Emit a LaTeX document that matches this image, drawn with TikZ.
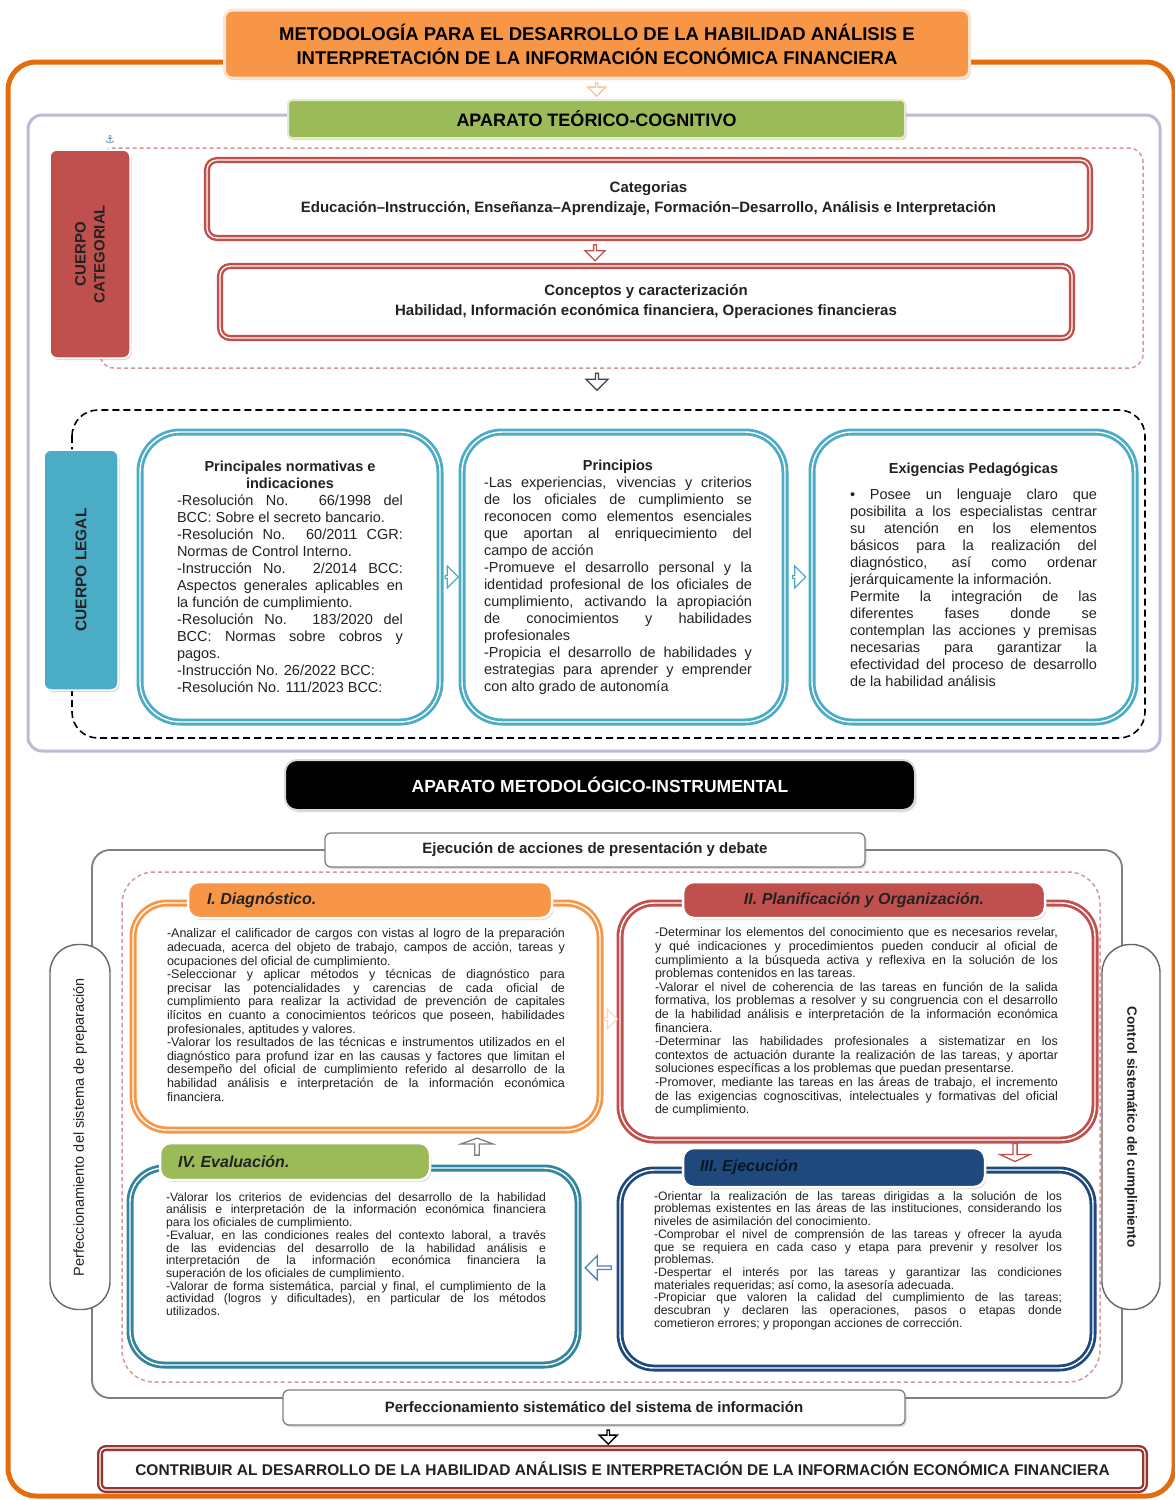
\documentclass[tikz,border=0pt]{standalone}
\usepackage{fontspec}
\setmainfont{Liberation Sans}
\newfontfamily\dejavufont{DejaVu Sans}
\usetikzlibrary{shapes.arrows,calc,shadows}
\definecolor{oframe}{HTML}{E46C0A}
\definecolor{otitle}{HTML}{F79646}
\definecolor{lav}{HTML}{BFB8D6}
\definecolor{grn}{HTML}{9BBB59}
\definecolor{rd}{HTML}{C0504D}
\definecolor{rdl}{HTML}{D99694}
\definecolor{tl}{HTML}{4BACC6}
\definecolor{tld}{HTML}{31859C}
\definecolor{nv}{HTML}{1F497D}
\definecolor{dred}{HTML}{953735}
\definecolor{gr}{HTML}{7F7F7F}
\definecolor{txt}{HTML}{222222}
\definecolor{lblue}{HTML}{4F81BD}
\newcommand\myfs[2]{\fontsize{#1}{#2}\selectfont}
\newcommand\bodysetup{\parindent=0pt\tolerance=10000\hbadness=10000\relax}
\begin{document}
\begin{tikzpicture}[x=1pt,y=-1pt,
  every node/.style={inner sep=0pt, outer sep=0pt},
  shad/.style={drop shadow={opacity=0.28,shadow xshift=1.5pt,shadow yshift=-2pt}},
  headbox/.style={rounded corners=8, align=center, text=black},
  catbox/.style={fill=white, draw=rd, line width=2.4, double=white, double distance=1.3, rounded corners=10, align=center, shad, font={\bfseries\myfs{15}{20}}, text=txt},
  labelbox/.style={draw=white, line width=1.5, rounded corners=7, shad},
  tealbox/.style={fill=white, draw=tl, line width=2.8, double=white, double distance=1.4, rounded corners=40},
  lbox/.style={fill=white, line width=2.8, double=white, double distance=1.4, rounded corners=34},
  whitebox/.style={fill=white, draw=gr, line width=1.3, rounded corners=6, shad, font={\bfseries\myfs{15}{18}}, text=txt},
  sidebox/.style={fill=white, draw=gr!80!black, line width=1.4, rounded corners=28},
  tab/.style={draw=white, line width=2.5, rounded corners=11, shad},
  tabtext/.style={font={\bfseries\itshape\myfs{16}{18}}, text=txt},
  bodyL/.style={align=justify, text=txt, font={\myfs{14.5}{17}\bodysetup}},
  bodyS/.style={align=justify, text=txt, font={\myfs{12.5}{13.6}\bodysetup}},
  bodyT/.style={align=justify, text=txt, font={\myfs{12.2}{12.7}\bodysetup}},
  barrow/.style={single arrow, draw=#1, fill=white, line width=1.3, single arrow head extend=4pt, inner sep=0pt},
  rdash/.style={draw=rdl, line width=1.5, dash pattern=on 4pt off 3pt, rounded corners=14},
]
\useasboundingbox (0,0) rectangle (1175,1500);
\fill[white] (0,0) rectangle (1175,1500);

% ---------- frames ----------
\draw[oframe, line width=5, rounded corners=28] (8,62) rectangle (1174,1496);
\draw[lav, line width=3, rounded corners=14] (28,115) rectangle (1160,751);

% ---------- title ----------
\node[headbox, fill=otitle, draw=otitle!25, line width=3, shad, minimum width=745, minimum height=68, font={\bfseries\myfs{18.5}{24}}] (title) at (597,44)
  {METODOLOGÍA PARA EL DESARROLLO DE LA HABILIDAD ANÁLISIS E\\INTERPRETACIÓN DE LA INFORMACIÓN ECONÓMICA FINANCIERA};
\node[headbox, fill=grn, draw=grn!30, line width=2, rounded corners=4, shad, minimum width=617, minimum height=38, font={\bfseries\myfs{18}{20}}] (green) at (596.5,119)
  {APARATO TEÓRICO-COGNITIVO};
\node[barrow=otitle!55, rotate=-90, minimum height=13, minimum width=18] (a1) at ($(title.south)!0.5!(green.north)$) {};

\node[text=lblue, font={\dejavufont\myfs{11}{11}}] (anc) at (110,140) {⚓};

% ---------- cuerpo categorial ----------
\draw[rdash] (100,148) rectangle (1143,368);
\node[labelbox, fill=rd, minimum width=80, minimum height=208] (cc) at (90,254) {};
\node[rotate=90, align=center, font={\bfseries\myfs{15}{19}}, text=txt] (cct) at (cc.center) {CUERPO\\CATEGORIAL};

\node[catbox, minimum width=883, minimum height=78] (cat) at (648.5,199)
  {Categorias\\Educación–Instrucción, Enseñanza–Aprendizaje, Formación–Desarrollo, Análisis e Interpretación};
\node[catbox, minimum width=852, minimum height=72] (con) at (646,302)
  {Conceptos y caracterización\\Habilidad, Información económica financiera, Operaciones financieras};
\node[barrow=rd, rotate=-90, minimum height=16, minimum width=20] (a2) at (595,252) {};
\node[barrow=black!75, rotate=-90, minimum height=17, minimum width=22] (a3) at (597,381) {};

% ---------- cuerpo legal ----------
\draw[black, line width=1.6, dash pattern=on 7pt off 4pt, rounded corners=26] (72,410) rectangle (1145,738);
\node[labelbox, fill=tl, minimum width=74, minimum height=240] (cl) at (81,570) {};
\node[rotate=90, font={\bfseries\myfs{15.5}{18}}, text=txt] (clt) at (cl.center) {CUERPO LEGAL};

\node[tealbox, minimum width=300, minimum height=290] (L1) at (290,577) {};
\node[tealbox, minimum width=323, minimum height=290] (L2) at (623.5,577) {};
\node[tealbox, minimum width=323, minimum height=290] (L3) at (973.5,577) {};

\node[bodyL, text width=226] (L1t) at (290,577) {{\centering\bfseries Principales normativas e\\indicaciones\par}%
-Resolución No. 66/1998 del\linebreak BCC: Sobre el secreto bancario.\par
-Resolución No. 60/2011 CGR:\linebreak Normas de Control Interno.\par
-Instrucción No. 2/2014 BCC:\linebreak Aspectos generales aplicables en\linebreak la función de cumplimiento.\par
-Resolución No. 183/2020 del\linebreak BCC: Normas sobre cobros y\linebreak pagos.\par
-Instrucción No. 26/2022 BCC:\par
-Resolución No. 111/2023 BCC:};

\node[bodyL, text width=268] (L2t) at (618,577.5) {{\centering\bfseries Principios\par}%
-Las experiencias, vivencias y criterios\linebreak de los oficiales de cumplimiento se\linebreak reconocen como elementos esenciales\linebreak que aportan al enriquecimiento del\linebreak campo de acción\par
-Promueve el desarrollo personal y la\linebreak identidad profesional de los oficiales de\linebreak cumplimiento, activando la apropiación\linebreak de conocimientos y habilidades\linebreak profesionales\par
-Propicia el desarrollo de habilidades y\linebreak estrategias para aprender y emprender\linebreak con alto grado de autonomía};

\node[bodyL, text width=247] (L3t) at (973.5,574.5) {{\centering\bfseries Exigencias Pedagógicas\par}\vspace{9pt}%
• Posee un lenguaje claro que\linebreak posibilita a los especialistas centrar\linebreak su atención en los elementos\linebreak básicos para la realización del\linebreak diagnóstico, así como ordenar\linebreak jerárquicamente la información.\par
Permite la integración de las\linebreak diferentes fases donde se\linebreak contemplan las acciones y premisas\linebreak necesarias para garantizar la\linebreak efectividad del proceso de desarrollo\linebreak de la habilidad análisis};

\node[barrow=tl, minimum height=13, minimum width=22] (a4) at ($(L1.east)!0.5!(L2.west)$) {};
\node[barrow=tl, minimum height=13, minimum width=22] (a5) at ($(L2.east)!0.5!(L3.west)$) {};

% ---------- aparato metodologico ----------
\node[headbox, fill=black, draw=gray!30, line width=2, rounded corners=12, shad, minimum width=630, minimum height=50, font={\bfseries\myfs{17.5}{20}}, text=white] (black) at (600,785)
  {APARATO METODOLÓGICO-INSTRUMENTAL};

\draw[gr, line width=1.8, rounded corners=18] (92,850) rectangle (1122,1398);
\draw[rdash, rounded corners=32] (122,872) rectangle (1100,1382);
\node[whitebox, minimum width=540, minimum height=34] (eje) at (595,850) {Ejecución de acciones de presentación y debate};

\node[sidebox, minimum width=60, minimum height=365] (sl) at (80,1127) {};
\node[rotate=90, font={\myfs{14.5}{16}}, text=txt] (slt) at (sl.center) {Perfeccionamiento del sistema de preparación};
\node[sidebox, minimum width=58, minimum height=365] (sr) at (1131,1127) {};
\node[rotate=-90, font={\bfseries\myfs{13.5}{16}}, text=txt] (srt) at (sr.center) {Control sistemático del cumplimiento};

% main boxes
\node[lbox, draw=otitle, minimum width=467, minimum height=227] (diag) at (366.5,1016.5) {};
\node[lbox, draw=rd, minimum width=475, minimum height=237] (plan) at (857.5,1021.5) {};
\node[lbox, draw=tld, minimum width=448, minimum height=197] (eval) at (354,1266.5) {};
\node[lbox, draw=nv, minimum width=473, minimum height=198] (ejec) at (856.5,1269) {};

% tabs
\node[tab, fill=otitle, minimum width=364, minimum height=36] (t1) at (370,900) {};
\node[tabtext, anchor=west] (t1t) at ($(t1.west)+(19,0)$) {I. Diagnóstico.};
\node[tab, fill=rd, minimum width=362, minimum height=36] (t2) at (864,900) {};
\node[tabtext] (t2t) at (t2.center) {II. Planificación y Organización.};
\node[tab, fill=grn, minimum width=270, minimum height=37] (t4) at (295,1161.5) {};
\node[tabtext, anchor=west] (t4t) at ($(t4.west)+(18,0)$) {IV. Evaluación.};
\node[tab, fill=nv, minimum width=302, minimum height=39] (t3) at (834,1167.5) {};
\node[tabtext, anchor=west, text=nv!30!black] (t3t) at ($(t3.west)+(17,0)$) {III. Ejecución};

% texts
\node[bodyS, text width=398] (diagt) at (366,1015) {%
-Analizar el calificador de cargos con vistas al logro de la preparación\linebreak adecuada, acerca del objeto de trabajo, campos de acción, tareas y\linebreak ocupaciones del oficial de cumplimiento.\par
-Seleccionar y aplicar métodos y técnicas de diagnóstico para\linebreak precisar las potencialidades y carencias de cada oficial de\linebreak cumplimiento para realizar la actividad de prevención de capitales\linebreak ilícitos en cuanto a conocimientos teóricos que poseen, habilidades\linebreak profesionales, aptitudes y valores.\par
-Valorar los resultados de las técnicas e instrumentos utilizados en el\linebreak diagnóstico para profund izar en las causas y factores que limitan el\linebreak desempeño del oficial de cumplimiento referido al desarrollo de la\linebreak habilidad análisis e interpretación de la información económica\linebreak financiera.};

\node[bodyS, text width=403] (plant) at (856.5,1022) {%
-Determinar los elementos del conocimiento que es necesarios revelar,\linebreak y qué indicaciones y procedimientos pueden conducir al oficial de\linebreak cumplimiento a la búsqueda activa y reflexiva en la solución de los\linebreak problemas contenidos en las tareas.\par
-Valorar el nivel de coherencia de las tareas en función de la salida\linebreak formativa, los problemas a resolver y su congruencia con el desarrollo\linebreak de la habilidad análisis e interpretación de la información económica\linebreak financiera.\par
-Determinar las habilidades profesionales a sistematizar en los\linebreak contextos de actuación durante la realización de las tareas, y aportar\linebreak soluciones específicas a los problemas que puedan presentarse.\par
-Promover, mediante las tareas en las áreas de trabajo, el incremento\linebreak de las exigencias cognoscitivas, intelectuales y formativas del oficial\linebreak de cumplimiento.};

\node[bodyT, text width=380] (evalt) at (356,1254) {%
-Valorar los criterios de evidencias del desarrollo de la habilidad\linebreak análisis e interpretación de la información económica financiera\linebreak para los oficiales de cumplimiento.\par
-Evaluar, en las condiciones reales del contexto laboral, a través\linebreak de las evidencias del desarrollo de la habilidad análisis e\linebreak interpretación de la información económica financiera la\linebreak superación de los oficiales de cumplimiento.\par
-Valorar de forma sistemática, parcial y final, el cumplimiento de la\linebreak actividad (logros y dificultades), en particular de los métodos\linebreak utilizados.};

\node[bodyT, text width=408] (eject) at (858,1260.5) {%
-Orientar la realización de las tareas dirigidas a la solución de los\linebreak problemas existentes en las áreas de las instituciones, considerando los\linebreak niveles de asimilación del conocimiento.\par
-Comprobar el nivel de comprensión de las tareas y ofrecer la ayuda\linebreak que se requiera en cada caso y etapa para prevenir y resolver los\linebreak problemas.\par
-Despertar el interés por las tareas y garantizar las condiciones\linebreak materiales requeridas; así como, la asesoría adecuada.\par
-Propiciar que valoren la calidad del cumplimiento de las tareas;\linebreak descubran y declaren las operaciones, pasos o etapas donde\linebreak cometieron errores; y propongan acciones de corrección.};

% cycle arrows
\node[barrow=otitle!35, minimum height=13, minimum width=20] (a6) at ($(diag.east)!0.5!(plan.west)$) {};
\node[barrow=rd, rotate=-90, minimum height=18, minimum width=30, single arrow tip angle=130] (a7) at (1015,1152) {};
\node[barrow=lblue, rotate=180, minimum height=26, minimum width=24] (a8) at ($(eval.east)!0.5!(ejec.west)$) {};
\node[barrow=gr, rotate=90, minimum height=17, minimum width=32, single arrow tip angle=140] (a9) at (477,1147) {};

% ---------- bottom ----------
\node[whitebox, minimum width=622, minimum height=35] (perf) at (594,1407.5) {Perfeccionamiento sistemático del sistema de información};
\node[fill=white, draw=dred, line width=2.4, double=white, double distance=1.2, rounded corners=6, shad, minimum width=1045, minimum height=42, font={\bfseries\myfs{15.5}{18}}, text=txt] (final) at (622.5,1469)
  {CONTRIBUIR AL DESARROLLO DE LA HABILIDAD ANÁLISIS E INTERPRETACIÓN DE LA INFORMACIÓN ECONÓMICA FINANCIERA};
\node[barrow=black, rotate=-90, minimum height=14, minimum width=18] (a10) at ($(perf.south)!0.5!(final.north)$) {};
\end{tikzpicture}
\end{document}
